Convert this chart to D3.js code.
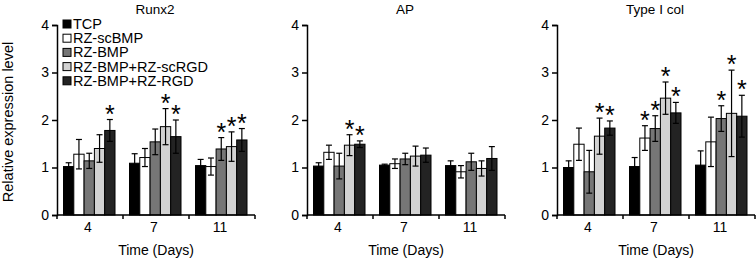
<!DOCTYPE html>
<html>
<head>
<meta charset="utf-8">
<script src="https://cdn.jsdelivr.net/npm/d3@7"></script>
<style>
  html, body { margin: 0; padding: 0; background: #fff; }
  svg { display: block; }
  text { font-family: "Liberation Sans", Arial, sans-serif; fill: #000; }
</style>
</head>
<body>
<svg id="chart" width="756" height="258"></svg>
<script>
// ---- data ----
const days = ["4", "7", "11"];
const seriesNames = ["TCP", "RZ-scBMP", "RZ-BMP", "RZ-BMP+RZ-scRGD", "RZ-BMP+RZ-RGD"];
const yTickValues = [0, 1, 2, 3, 4];
const panelTitles = ["Runx2", "AP", "Type I col"];

// means: rows = series, columns = days
const runx2Mean = [[1.02, 1.09, 1.04], [1.28, 1.21, 1.02], [1.14, 1.54, 1.39], [1.40, 1.86, 1.44], [1.78, 1.65, 1.58]];
const runx2Err  = [[0.08, 0.20, 0.13], [0.31, 0.19, 0.18], [0.16, 0.27, 0.24], [0.29, 0.38, 0.31], [0.23, 0.35, 0.24]];
const runx2Stars = [[0, 4], [1, 3], [1, 4], [2, 2], [2, 3], [2, 4]];

const apMean = [[1.03, 1.05, 1.04], [1.32, 1.08, 0.91], [1.03, 1.18, 1.12], [1.47, 1.24, 0.98], [1.49, 1.26, 1.19]];
const apErr  = [[0.07, 0.02, 0.10], [0.15, 0.10, 0.13], [0.27, 0.12, 0.18], [0.22, 0.21, 0.16], [0.07, 0.15, 0.25]];
const apStars = [[0, 3], [0, 4]];

const colMean = [[1.00, 1.02, 1.05], [1.49, 1.62, 1.54], [0.91, 1.82, 2.03], [1.66, 2.46, 2.14], [1.83, 2.15, 2.08]];
const colErr  = [[0.14, 0.19, 0.30], [0.34, 0.26, 0.52], [0.45, 0.27, 0.27], [0.38, 0.34, 0.91], [0.15, 0.22, 0.44]];
const colStars = [[0, 3], [0, 4], [1, 1], [1, 2], [1, 3], [1, 4], [2, 2], [2, 3], [2, 4]];

const seriesColors = ["#000000", "#ffffff", "#767676", "#d2d2d2", "#232323"];

// ---- layout ----
const svg = d3.select("#chart");
const panelX = [57, 307, 557];
const panelW = 198;
const y = d3.scaleLinear().domain([0, 4]).range([215, 25]);

const panels = [
  { mean: runx2Mean, err: runx2Err, stars: runx2Stars },
  { mean: apMean, err: apErr, stars: apStars },
  { mean: colMean, err: colErr, stars: colStars }
];

panels.forEach((p, pi) => {
  const g = svg.append("g").attr("transform", `translate(${panelX[pi]},0)`);
  const x0 = d3.scaleBand().domain(days).range([0, panelW]).padding(0);
  const x1 = d3.scaleBand().domain(d3.range(seriesNames.length)).range([6.5, 58]).padding(0);

  // y axis
  const yAxis = d3.axisLeft(y).tickValues(yTickValues).tickFormat(d3.format("d")).tickSizeOuter(0).tickSize(5).tickPadding(3);
  const ya = g.append("g").call(yAxis);
  ya.select(".domain").attr("stroke", "#000").attr("stroke-width", 1.5);
  ya.selectAll(".tick line").attr("stroke", "#000").attr("stroke-width", 1.5);
  ya.selectAll(".tick text").attr("font-size", 14).attr("font-family", "Liberation Sans, Arial, sans-serif").attr("fill", "#000");

  // bars
  const rows = [];
  p.mean.forEach((vals, si) => vals.forEach((v, di) => rows.push({ si, di, v, e: p.err[si][di] })));

  g.selectAll("rect.bar").data(rows).enter().append("rect")
    .attr("class", "bar")
    .attr("x", d => x0(days[d.di]) + x1(d.si))
    .attr("width", x1.bandwidth())
    .attr("y", d => y(d.v))
    .attr("height", d => y(0) - y(d.v))
    .attr("fill", d => seriesColors[d.si])
    .attr("stroke", "#000").attr("stroke-width", 1);

  // error bars
  const cx = d => x0(days[d.di]) + x1(d.si) + x1.bandwidth() / 2;
  const eb = g.selectAll("g.eb").data(rows).enter().append("g").attr("class", "eb");
  eb.append("line").attr("x1", cx).attr("x2", cx)
    .attr("y1", d => y(d.v + d.e)).attr("y2", d => y(d.v - d.e))
    .attr("stroke", "#000").attr("stroke-width", 1.2);
  eb.append("line").attr("x1", d => cx(d) - 3).attr("x2", d => cx(d) + 3)
    .attr("y1", d => y(d.v + d.e)).attr("y2", d => y(d.v + d.e))
    .attr("stroke", "#000").attr("stroke-width", 1.2);
  eb.append("line").attr("x1", d => cx(d) - 3).attr("x2", d => cx(d) + 3)
    .attr("y1", d => y(d.v - d.e)).attr("y2", d => y(d.v - d.e))
    .attr("stroke", "#000").attr("stroke-width", 1.2);

  // stars
  g.selectAll("text.star").data(p.stars).enter().append("text")
    .attr("class", "star")
    .attr("x", d => x0(days[d[0]]) + x1(d[1]) + x1.bandwidth() / 2)
    .attr("y", d => y(p.mean[d[1]][d[0]] + p.err[d[1]][d[0]]) + 3)
    .attr("text-anchor", "middle")
    .attr("font-size", 25)
    .text("*");

  // x axis
  const xa = g.append("g").attr("transform", `translate(0,${y(0)})`);
  xa.append("line").attr("x1", 0).attr("x2", panelW).attr("stroke", "#000").attr("stroke-width", 1.5);
  xa.selectAll("line.xt").data(d3.range(days.length + 1)).enter().append("line")
    .attr("class", "xt")
    .attr("x1", i => i * x0.step()).attr("x2", i => i * x0.step())
    .attr("y1", 0).attr("y2", 4)
    .attr("stroke", "#000").attr("stroke-width", 1.5);
  xa.selectAll("text.xl").data(days).enter().append("text")
    .attr("class", "xl")
    .attr("x", d => x0(d) + x0.bandwidth() / 2 - 2)
    .attr("y", 17)
    .attr("text-anchor", "middle").attr("font-size", 14)
    .text(d => d);

  g.append("text").attr("x", panelW / 2).attr("y", 255)
    .attr("text-anchor", "middle").attr("font-size", 14).text("Time (Days)");

  g.append("text").attr("x", panelW / 2 - 1).attr("y", 14)
    .attr("text-anchor", "middle").attr("font-size", 13.5).text(panelTitles[pi]);
});

// y axis title
svg.append("text")
  .attr("transform", "translate(13,122) rotate(-90)")
  .attr("text-anchor", "middle").attr("font-size", 14.5)
  .text("Relative expression level");

// legend
const leg = svg.append("g").attr("transform", "translate(63,24)");
const li = leg.selectAll("g").data(seriesNames).enter().append("g")
  .attr("transform", (d, i) => `translate(0,${i * 14.2})`);
li.append("rect").attr("x", 0).attr("y", -4).attr("width", 8).attr("height", 8)
  .attr("fill", (d, i) => seriesColors[i]).attr("stroke", "#000").attr("stroke-width", 1);
li.append("text").attr("x", 10).attr("y", 5).attr("font-size", 14.5).text(d => d);
</script>
</body>
</html>
